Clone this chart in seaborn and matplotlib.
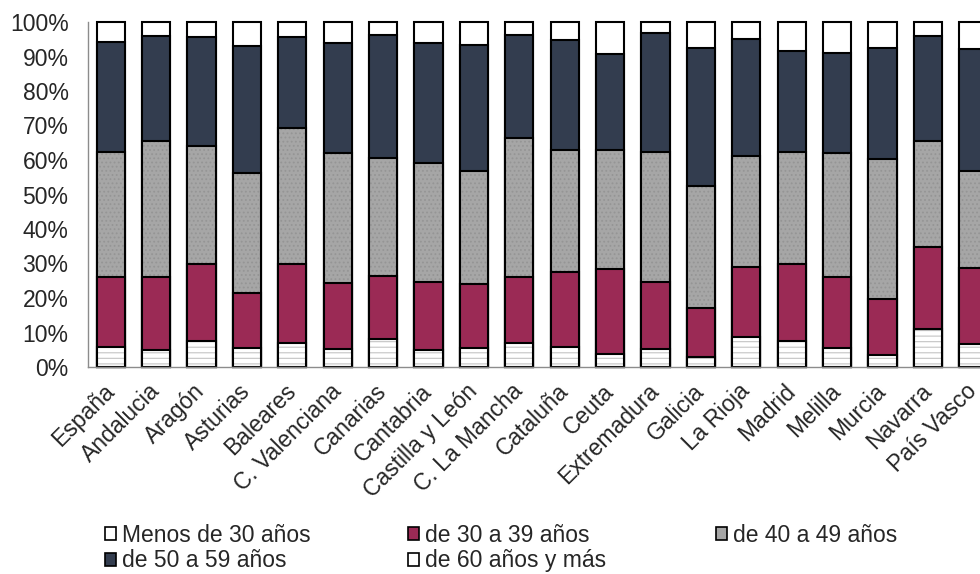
import numpy as np
import matplotlib
matplotlib.use("Agg")
import matplotlib.pyplot as plt
import seaborn as sns
from matplotlib.patches import Patch

# -----------------------------
# Data (% de cada tramo de edad)
# -----------------------------
regions = ["España", "Andalucia", "Aragón", "Asturias", "Baleares",
           "C. Valenciana", "Canarias", "Cantabria", "Castilla y León",
           "C. La Mancha", "Cataluña", "Ceuta", "Extremadura", "Galicia",
           "La Rioja", "Madrid", "Melilla", "Murcia", "Navarra", "País Vasco"]

menos_30 = [5.9, 4.9, 7.5, 5.6, 7.0, 5.1, 8.1, 4.9, 5.6, 7.1,
            5.9, 3.8, 5.1, 2.8, 8.8, 7.5, 5.4, 3.5, 10.9, 6.8]
de_30_39 = [20.3, 21.3, 22.5, 15.8, 22.9, 19.3, 18.3, 19.8, 18.6, 19.1,
            21.5, 24.7, 19.6, 14.2, 20.3, 22.5, 20.8, 16.1, 24.0, 22.0]
de_40_49 = [36.0, 39.4, 34.2, 34.7, 39.3, 37.7, 34.1, 34.4, 32.6, 40.1,
            35.5, 34.4, 37.7, 35.5, 32.1, 32.4, 35.9, 40.6, 30.7, 28.0]
de_50_59 = [32.1, 30.4, 31.5, 36.9, 26.5, 31.9, 35.8, 34.9, 36.5, 29.8,
            31.9, 27.8, 34.3, 39.9, 34.0, 29.3, 28.8, 32.4, 30.3, 35.4]
de_60_mas = [5.7, 4.0, 4.3, 7.0, 4.3, 6.0, 3.7, 6.0, 6.7, 3.9,
             5.2, 9.3, 3.3, 7.6, 4.8, 8.3, 9.1, 7.4, 4.1, 7.8]

series_labels = ["Menos de 30 años", "de 30 a 39 años", "de 40 a 49 años",
                 "de 50 a 59 años", "de 60 años y más"]
series_colors = ["#FFFFFF", "#9B2A55", "#A6A6A6", "#333D4F", "#FFFFFF"]
# texture of each layer: (hatch, hatch colour)
textures = {0: ("---", "#C4C4C4"), 2: ("....", "#959595")}

# -----------------------------
# Style
# -----------------------------
sns.set_style("white")
plt.rcParams["font.family"] = ["Liberation Sans", "DejaVu Sans"]
plt.rcParams["hatch.linewidth"] = 0.8
FS = 16.5

fig = plt.figure(figsize=(9.8, 5.74), dpi=100)
ax = fig.add_axes([88 / 980, 1 - 367 / 574, 908 / 980, 345 / 574])

# stacked bars: draw cumulative totals from the top layer down
segments = np.array([menos_30, de_30_39, de_40_49, de_50_59, de_60_mas])
cum = np.cumsum(segments, axis=0)

for k in range(4, -1, -1):
    if k in textures:
        hatch, hcol = textures[k]
        # hatch takes the edge colour, so fill with a grey edge first ...
        sns.barplot(x=regions, y=cum[k], color=series_colors[k], saturation=1,
                    edgecolor=hcol, linewidth=0, width=0.62, ax=ax)
        for p in ax.containers[-1]:
            p.set_hatch(hatch)
            p.set_clip_on(False)
        # ... then the black outline on top
        sns.barplot(x=regions, y=cum[k], color="black", fill=False,
                    linewidth=1.5, width=0.62, ax=ax)
    else:
        sns.barplot(x=regions, y=cum[k], color=series_colors[k], saturation=1,
                    edgecolor="black", linewidth=1.5, width=0.62, ax=ax)
    for p in ax.containers[-1]:
        p.set_clip_on(False)

ax.set_xlim(-0.5, len(regions) - 0.5)
ax.set_ylim(0, 100)
ax.set_yticks(range(0, 101, 10))
ax.set_yticklabels([f"{v}%" for v in range(0, 101, 10)], fontsize=FS)
ax.set_xticks(range(len(regions)))
ax.set_xticklabels(regions, fontsize=FS, rotation=45, ha="right",
                   va="center", rotation_mode="anchor")
ax.tick_params(axis="y", length=0, pad=14)
ax.tick_params(axis="x", length=0, pad=15)
ax.set_xlabel("")
ax.set_ylabel("")

sns.despine(ax=ax, top=True, right=True)
for side in ["left", "bottom"]:
    ax.spines[side].set_color("#8C8C8C")
    ax.spines[side].set_linewidth(1.0)

# -----------------------------
# Legend (3 columns, row-wise)
# -----------------------------
handles = [Patch(facecolor=c, edgecolor="black", linewidth=1.2) for c in series_colors]
columns = [[0, 3], [1, 4], [2]]
col_x = [105, 408, 716]
for idx, x0 in zip(columns, col_x):
    fig.legend([handles[i] for i in idx], [series_labels[i] for i in idx],
               loc="upper left", bbox_to_anchor=(x0 / 980, 1 - 524 / 574),
               frameon=False, fontsize=FS, handlelength=0.5,
               handleheight=0.5, handletextpad=0.25, labelspacing=0.1,
               borderpad=0, borderaxespad=0)

fig.savefig("out.png", dpi=100)
